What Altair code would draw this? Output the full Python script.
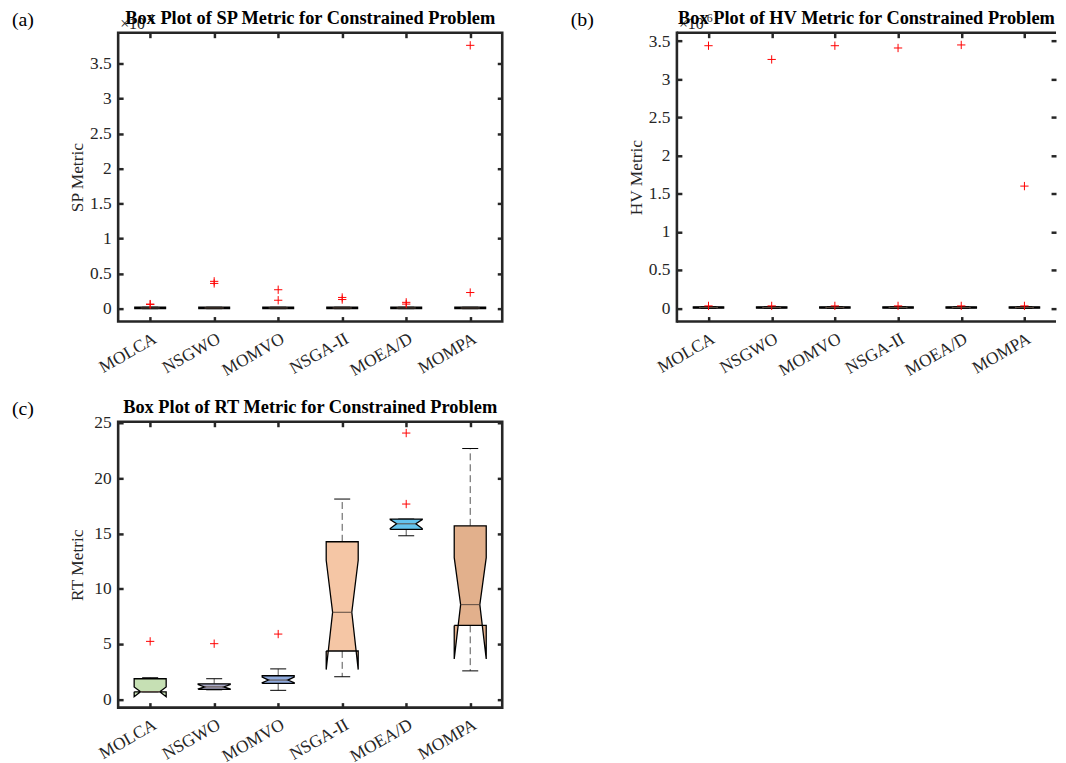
import altair as alt
import pandas as pd

algorithms = ["MOLCA", "NSGWO", "MOMVO", "NSGA-II", "MOEA/D", "MOMPA"]
box_colors = ["#c6e0b4", "#a9aac8", "#8faadc", "#f5c6a5", "#64c4ee", "#e2b08c"]
flat_fill = ["#000000", "#000000", "#000000", "#000000", "#000000", "#000000"]

# (a) SP metric, values in units of 10^4
sp_q1 = [0.0, 0.0, 0.0, 0.0, 0.0, 0.0]
sp_median = [0.01, 0.01, 0.01, 0.01, 0.01, 0.01]
sp_q3 = [0.02, 0.02, 0.02, 0.02, 0.02, 0.02]
sp_notch_lo = [0.0, 0.0, 0.0, 0.0, 0.0, 0.0]
sp_notch_hi = [0.02, 0.02, 0.02, 0.02, 0.02, 0.02]
sp_whisker_lo = [0.0, 0.0, 0.0, 0.0, 0.0, 0.0]
sp_whisker_hi = [0.02, 0.02, 0.02, 0.02, 0.02, 0.02]
sp_outlier_alg = ["MOLCA", "MOLCA", "NSGWO", "NSGWO", "MOMVO", "MOMVO",
                  "NSGA-II", "NSGA-II", "MOEA/D", "MOEA/D", "MOMPA", "MOMPA"]
sp_outlier_val = [0.065, 0.06, 0.39, 0.36, 0.27, 0.12, 0.16, 0.13, 0.09, 0.065, 0.23, 3.76]
sp_ticks = [0, 0.5, 1, 1.5, 2, 2.5, 3, 3.5]
sp_domain = [-0.184, 3.94]

# (b) HV metric, values in units of 10^6
hv_q1 = [0.0, 0.0, 0.0, 0.0, 0.0, 0.0]
hv_median = [0.009, 0.009, 0.009, 0.009, 0.009, 0.009]
hv_q3 = [0.018, 0.018, 0.018, 0.018, 0.018, 0.018]
hv_notch_lo = [0.0, 0.0, 0.0, 0.0, 0.0, 0.0]
hv_notch_hi = [0.018, 0.018, 0.018, 0.018, 0.018, 0.018]
hv_whisker_lo = [0.0, 0.0, 0.0, 0.0, 0.0, 0.0]
hv_whisker_hi = [0.018, 0.018, 0.018, 0.018, 0.018, 0.018]
hv_outlier_alg = ["MOLCA", "MOLCA", "NSGWO", "NSGWO", "MOMVO", "MOMVO",
                  "NSGA-II", "NSGA-II", "MOEA/D", "MOEA/D", "MOMPA", "MOMPA"]
hv_outlier_val = [3.44, 0.03, 3.26, 0.03, 3.44, 0.03, 3.41, 0.03, 3.45, 0.03, 1.60, 0.03]
hv_ticks = [0, 0.5, 1, 1.5, 2, 2.5, 3, 3.5]
hv_domain = [-0.175, 3.61]

# (c) RT metric
rt_q1 = [0.68, 0.90, 1.44, 4.37, 15.36, 6.68]
rt_median = [0.69, 1.12, 1.74, 7.87, 15.87, 8.56]
rt_q3 = [1.86, 1.40, 2.13, 14.25, 16.30, 15.69]
rt_notch_lo = [0.24, 0.93, 1.50, 2.69, 15.45, 3.65]
rt_notch_hi = [1.12, 1.33, 2.00, 12.57, 16.25, 12.81]
rt_whisker_lo = [0.68, 0.86, 0.81, 2.04, 14.79, 2.57]
rt_whisker_hi = [1.95, 1.86, 2.75, 18.11, 16.30, 22.68]
rt_outlier_alg = ["MOLCA", "NSGWO", "MOMVO", "MOEA/D", "MOEA/D"]
rt_outlier_val = [5.24, 5.03, 5.90, 17.66, 24.08]
rt_ticks = [0, 5, 10, 15, 20, 25]
rt_domain = [-0.75, 25.1]

FONT = "Liberation Serif"
INK = "#262626"
HALF = 0.25     # half box width, in category units
NOTCH = 0.6     # notch inner width ratio
CAP = 0.125     # half whisker-cap width
PLUS = "M-1,0L1,0M0,-1L0,1"
cat_pos = [i + 1 for i in range(len(algorithms))]
label_expr = "[" + ",".join("'%s'" % a for a in algorithms) + "][datum.value - 1]"


def text_layer(s, x, y, size, weight="normal", align="left", baseline="alphabetic", color="black"):
    return alt.Chart(pd.DataFrame({"t": [s]})).mark_text(
        text=s, font=FONT, fontSize=size, fontWeight=weight, align=align,
        baseline=baseline, color=color
    ).encode(x=alt.value(x), y=alt.value(y))


def panel(tag, title, ytitle, exponent, q1, med, q3, nlo, nhi, wlo, whi,
          out_alg, out_val, ydom, yticks, w, h, full_frame, fills):
    xs = alt.Scale(domain=[0.5, 6.5], nice=False, zero=False)
    ys = alt.Scale(domain=ydom, nice=False, zero=False)
    common = dict(tickSize=5, tickWidth=2.5, tickColor=INK, domain=False, grid=False, offset=-5)
    x_bottom = alt.Axis(orient="bottom", values=cat_pos, labelExpr=label_expr, labelAngle=330,
                        labelAlign="right", labelBaseline="top", labelFont=FONT, labelFontSize=17.5,
                        labelColor=INK, labelPadding=8, labelOverlap=False, title=None, **common)
    y_left = alt.Axis(orient="left", values=yticks, format="~g", labelFont=FONT, labelFontSize=17.5,
                      labelColor=INK, labelPadding=7, labelOverlap=False, title=ytitle, titleFont=FONT,
                      titleFontSize=17.5, titleFontWeight="normal", titleColor=INK,
                      titleX=-46, titleY=h / 2, titleAngle=270, titleAlign="center",
                      titleBaseline="middle", **common)
    x_top = alt.Axis(orient="top", values=cat_pos, labels=False, title=None, **common)
    y_right = alt.Axis(orient="right", values=yticks, labels=False, title=None, **common)

    poly, whisk, caps, meds = [], [], [], []
    for i, name in enumerate(algorithms):
        c = i + 1
        verts = [(-HALF, q1[i]), (-HALF, nlo[i]), (-NOTCH * HALF, med[i]), (-HALF, nhi[i]),
                 (-HALF, q3[i]), (HALF, q3[i]), (HALF, nhi[i]), (NOTCH * HALF, med[i]),
                 (HALF, nlo[i]), (HALF, q1[i]), (-HALF, q1[i])]
        for k, (dx, yv) in enumerate(verts):
            poly.append({"alg": name, "k": k, "x": c + dx, "y": yv})
        whisk.append({"x": c, "y": q3[i], "y2": whi[i]})
        whisk.append({"x": c, "y": q1[i], "y2": wlo[i]})
        caps.append({"x": c - CAP, "x2": c + CAP, "y": whi[i]})
        caps.append({"x": c - CAP, "x2": c + CAP, "y": wlo[i]})
        meds.append({"x": c - NOTCH * HALF, "x2": c + NOTCH * HALF, "y": med[i]})
    poly_df = pd.DataFrame(poly)
    out_df = pd.DataFrame({"x": [algorithms.index(a) + 1 for a in out_alg], "y": out_val})

    layers = []
    layers.append(alt.Chart(pd.DataFrame(whisk)).mark_rule(
        color="#555555", strokeWidth=1, strokeDash=[7, 4]).encode(
        x=alt.X("x:Q", scale=xs, axis=x_bottom), y=alt.Y("y:Q", scale=ys, axis=y_left), y2="y2:Q"))
    layers.append(alt.Chart(pd.DataFrame(caps)).mark_rule(color="black", strokeWidth=1).encode(
        x=alt.X("x:Q", scale=xs, axis=x_top), x2="x2:Q", y=alt.Y("y:Q", scale=ys, axis=y_right)))
    for i, name in enumerate(algorithms):
        layers.append(alt.Chart(poly_df[poly_df["alg"] == name]).mark_line(
            fill=fills[i], stroke="black", strokeWidth=1.3, strokeJoin="miter").encode(
            x=alt.X("x:Q", scale=xs, axis=None), y=alt.Y("y:Q", scale=ys, axis=None),
            order="k:Q"))
    layers.append(alt.Chart(pd.DataFrame(meds)).mark_rule(color="#5a4a40", strokeWidth=1).encode(
        x=alt.X("x:Q", scale=xs, axis=None), x2="x2:Q", y=alt.Y("y:Q", scale=ys, axis=None)))
    layers.append(alt.Chart(out_df).mark_point(
        shape=PLUS, size=70, filled=False, color="#ff0000", strokeWidth=1, opacity=1).encode(
        x=alt.X("x:Q", scale=xs, axis=None), y=alt.Y("y:Q", scale=ys, axis=None)))

    layers.append(text_layer(tag, -107, -13, 20, baseline="middle"))
    if exponent:
        layers.append(text_layer("\u00d710", 2, -4, 16, color=INK))
        layers.append(text_layer(exponent, 30, -11, 12, color=INK))
    layers.append(text_layer(title, w / 2, -9, 18.5, weight="bold", align="center"))

    if full_frame:
        view = alt.ViewBackground(stroke=INK, strokeWidth=2.6, fill="white")
    else:
        view = alt.ViewBackground(stroke="transparent", strokeWidth=0, fill="white")
        one = pd.DataFrame({"v": [0]})
        layers.append(alt.Chart(one).mark_rule(color=INK, strokeWidth=2.6).encode(
            x=alt.value(0), x2=alt.value(w), y=alt.value(0)))
        layers.append(alt.Chart(one).mark_rule(color=INK, strokeWidth=2.6).encode(
            x=alt.value(0), x2=alt.value(w), y=alt.value(h)))
        layers.append(alt.Chart(one).mark_rule(color=INK, strokeWidth=2.6, strokeCap="square").encode(
            x=alt.value(0), y=alt.value(0), y2=alt.value(h)))

    return alt.layer(*layers).resolve_axis(x="independent", y="independent").properties(
        width=w, height=h, view=view)


pa = panel("(a)", "Box Plot of SP Metric for Constrained Problem", "SP Metric", "4",
           sp_q1, sp_median, sp_q3, sp_notch_lo, sp_notch_hi, sp_whisker_lo, sp_whisker_hi,
           sp_outlier_alg, sp_outlier_val, sp_domain, sp_ticks, 387, 291, True, flat_fill)
pb = panel("(b)", "Box Plot of HV Metric for Constrained Problem", "HV Metric", "6",
           hv_q1, hv_median, hv_q3, hv_notch_lo, hv_notch_hi, hv_whisker_lo, hv_whisker_hi,
           hv_outlier_alg, hv_outlier_val, hv_domain, hv_ticks, 382, 291, False, flat_fill)
pc = panel("(c)", "Box Plot of RT Metric for Constrained Problem", "RT Metric", None,
           rt_q1, rt_median, rt_q3, rt_notch_lo, rt_notch_hi, rt_whisker_lo, rt_whisker_hi,
           rt_outlier_alg, rt_outlier_val, rt_domain, rt_ticks, 387, 288, True, box_colors)

chart = alt.vconcat(alt.hconcat(pa, pb, spacing=66), pc, spacing=16).properties(
    padding={"left": 2, "top": -4, "right": 0, "bottom": 6}
).configure(background="white")

chart.save("out.html", embed_options={"renderer": "svg", "actions": False})
